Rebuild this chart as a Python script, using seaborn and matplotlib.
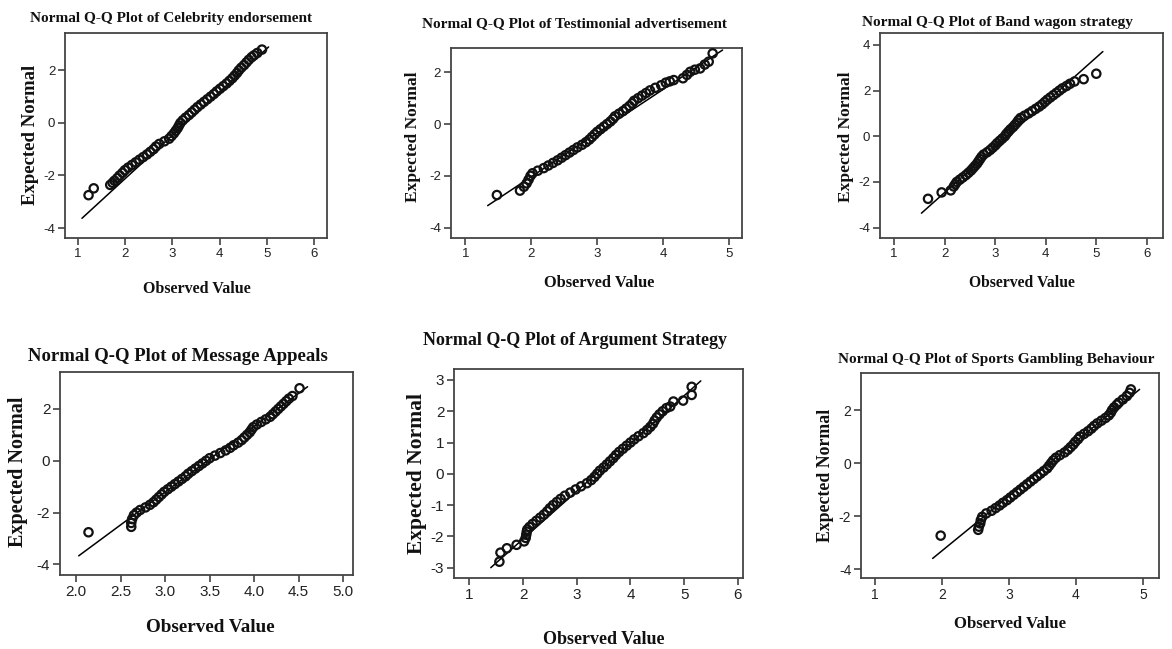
import matplotlib.pyplot as plt
import seaborn as sns
from matplotlib.ticker import FormatStrFormatter

sns.set_theme(style="ticks")
plt.rcParams["font.family"] = ["Liberation Sans", "DejaVu Sans"]
plt.rcParams["axes.unicode_minus"] = False

W, H = 1172, 649
SERIF = ["Liberation Serif", "DejaVu Serif"]

celebrity_obs = [1.22, 1.33, 1.68, 1.73, 1.77, 1.83, 1.88, 1.94, 1.99, 2.06, 2.14, 2.22, 2.3, 2.38,
                 2.46, 2.53, 2.6, 2.65, 2.72, 2.83, 2.93, 2.98, 3.03, 3.07, 3.11, 3.14, 3.17, 3.22,
                 3.28, 3.35, 3.41, 3.47, 3.53, 3.6, 3.67, 3.74, 3.81, 3.88, 3.94, 4.01, 4.08, 4.15,
                 4.21, 4.27, 4.32, 4.37, 4.41, 4.46, 4.52, 4.57, 4.62, 4.68, 4.73, 4.8, 4.9]
celebrity_exp = [-2.75, -2.49, -2.36, -2.28, -2.2, -2.1, -2.0, -1.9, -1.8, -1.7, -1.6, -1.5, -1.4,
                 -1.3, -1.2, -1.1, -1.0, -0.9, -0.8, -0.7, -0.6, -0.5, -0.4, -0.3, -0.2, -0.1, 0.0,
                 0.1, 0.2, 0.3, 0.4, 0.5, 0.6, 0.7, 0.8, 0.9, 1.0, 1.1, 1.2, 1.3, 1.4, 1.5, 1.6, 1.7,
                 1.8, 1.9, 2.0, 2.1, 2.2, 2.3, 2.4, 2.5, 2.57, 2.66, 2.79]

testimonial_obs = [1.48, 1.83, 1.89, 1.93, 1.96, 1.99, 2.02, 2.1, 2.19, 2.26, 2.33, 2.4, 2.46, 2.52,
                   2.58, 2.64, 2.7, 2.77, 2.83, 2.88, 2.92, 2.96, 3.0, 3.05, 3.1, 3.15, 3.2, 3.24,
                   3.27, 3.33, 3.39, 3.44, 3.49, 3.53, 3.56, 3.62, 3.68, 3.74, 3.8, 3.88, 3.97, 4.04,
                   4.1, 4.16, 4.3, 4.36, 4.41, 4.48, 4.56, 4.63, 4.69, 4.75]
testimonial_exp = [-2.74, -2.57, -2.42, -2.29, -2.15, -2.0, -1.9, -1.8, -1.7, -1.6, -1.5, -1.4, -1.3,
                   -1.2, -1.1, -1.0, -0.9, -0.8, -0.7, -0.6, -0.5, -0.4, -0.3, -0.2, -0.1, 0.0, 0.1,
                   0.2, 0.3, 0.4, 0.5, 0.6, 0.7, 0.8, 0.9, 1.0, 1.1, 1.2, 1.3, 1.4, 1.5, 1.6, 1.65,
                   1.7, 1.77, 1.9, 2.02, 2.1, 2.15, 2.3, 2.41, 2.73]

bandwagon_obs = [1.67, 1.94, 2.12, 2.18, 2.21, 2.24, 2.3, 2.36, 2.42, 2.47, 2.52, 2.56, 2.6, 2.64,
                 2.67, 2.7, 2.73, 2.77, 2.84, 2.9, 2.95, 3.0, 3.04, 3.09, 3.14, 3.19, 3.22, 3.26,
                 3.3, 3.35, 3.39, 3.43, 3.46, 3.5, 3.58, 3.66, 3.73, 3.8, 3.87, 3.93, 3.98, 4.03,
                 4.09, 4.15, 4.21, 4.27, 4.33, 4.41, 4.48, 4.57, 4.75, 5.0]
bandwagon_exp = [-2.74, -2.46, -2.37, -2.2, -2.1, -2.0, -1.9, -1.8, -1.7, -1.6, -1.5, -1.4, -1.3,
                 -1.2, -1.1, -1.0, -0.9, -0.8, -0.7, -0.6, -0.5, -0.4, -0.3, -0.2, -0.1, 0.0, 0.1,
                 0.2, 0.3, 0.4, 0.5, 0.6, 0.7, 0.8, 0.9, 1.0, 1.1, 1.2, 1.3, 1.4, 1.5, 1.6, 1.7,
                 1.8, 1.9, 2.0, 2.1, 2.2, 2.3, 2.4, 2.5, 2.74]

message_obs = [2.14, 2.62, 2.62, 2.63, 2.65, 2.68, 2.72, 2.78, 2.83, 2.87, 2.9, 2.93, 2.96, 2.99,
               3.03, 3.07, 3.11, 3.15, 3.19, 3.23, 3.26, 3.3, 3.34, 3.38, 3.42, 3.46, 3.5, 3.56,
               3.62, 3.68, 3.73, 3.77, 3.82, 3.86, 3.89, 3.92, 3.95, 3.97, 3.99, 4.03, 4.08, 4.13,
               4.18, 4.21, 4.24, 4.27, 4.3, 4.33, 4.36, 4.39, 4.43, 4.51]
message_exp = [-2.76, -2.55, -2.4, -2.25, -2.1, -2.0, -1.9, -1.8, -1.7, -1.6, -1.5, -1.4, -1.3,
               -1.2, -1.1, -1.0, -0.9, -0.8, -0.7, -0.6, -0.5, -0.4, -0.3, -0.2, -0.1, 0.0, 0.1,
               0.2, 0.3, 0.4, 0.5, 0.6, 0.7, 0.8, 0.9, 1.0, 1.1, 1.2, 1.3, 1.4, 1.5, 1.6, 1.7,
               1.8, 1.9, 2.0, 2.1, 2.2, 2.3, 2.4, 2.5, 2.8]

argument_obs = [1.56, 1.58, 1.7, 1.88, 2.02, 2.05, 2.06, 2.07, 2.08, 2.12, 2.18, 2.25, 2.32, 2.39,
                2.45, 2.5, 2.56, 2.63, 2.7, 2.78, 2.88, 2.98, 3.08, 3.19, 3.27, 3.33, 3.38, 3.43,
                3.5, 3.56, 3.62, 3.68, 3.73, 3.79, 3.86, 3.93, 4.0, 4.07, 4.15, 4.24, 4.31, 4.37,
                4.42, 4.45, 4.49, 4.54, 4.6, 4.67, 4.74, 4.8, 4.98, 5.14, 5.14]
argument_exp = [-2.81, -2.52, -2.38, -2.27, -2.16, -2.05, -1.95, -1.85, -1.78, -1.7, -1.6, -1.5,
                -1.4, -1.3, -1.2, -1.1, -1.0, -0.9, -0.8, -0.7, -0.6, -0.5, -0.4, -0.3, -0.2, -0.1,
                0.0, 0.1, 0.2, 0.3, 0.4, 0.5, 0.6, 0.7, 0.8, 0.9, 1.0, 1.1, 1.2, 1.3, 1.4, 1.5, 1.6,
                1.7, 1.8, 1.9, 2.0, 2.1, 2.15, 2.31, 2.34, 2.52, 2.78]

gambling_obs = [1.98, 2.54, 2.55, 2.57, 2.58, 2.6, 2.66, 2.74, 2.8, 2.86, 2.91, 2.97, 3.02, 3.07,
                3.12, 3.17, 3.22, 3.27, 3.32, 3.37, 3.42, 3.47, 3.52, 3.57, 3.6, 3.63, 3.66, 3.7,
                3.76, 3.83, 3.88, 3.92, 3.96, 3.99, 4.03, 4.06, 4.12, 4.18, 4.23, 4.27, 4.32, 4.38,
                4.44, 4.49, 4.52, 4.54, 4.57, 4.61, 4.64, 4.7, 4.76, 4.8, 4.82]
gambling_exp = [-2.74, -2.52, -2.4, -2.28, -2.15, -2.03, -1.9, -1.8, -1.7, -1.6, -1.5, -1.4, -1.3,
                -1.2, -1.1, -1.0, -0.9, -0.8, -0.7, -0.6, -0.5, -0.4, -0.3, -0.2, -0.1, 0.0, 0.1,
                0.2, 0.3, 0.4, 0.5, 0.6, 0.7, 0.8, 0.9, 1.0, 1.1, 1.2, 1.3, 1.4, 1.5, 1.6, 1.7,
                1.8, 1.9, 2.0, 2.1, 2.2, 2.28, 2.4, 2.53, 2.65, 2.78]

# reference lines (two end points each)
line_x = [[1.08, 5.04], [1.34, 4.9], [1.54, 5.13], [2.03, 4.6], [1.40, 5.31], [1.86, 4.95]]
line_y = [[-3.63, 2.89], [-3.15, 2.86], [-3.37, 3.71], [-3.67, 2.86], [-3.0, 2.97], [-3.6, 2.78]]

titles = [
    "Normal Q-Q Plot of Celebrity endorsement",
    "Normal Q-Q Plot of Testimonial advertisement",
    "Normal Q-Q Plot of Band wagon strategy",
    "Normal Q-Q Plot of Message Appeals",
    "Normal Q-Q Plot of Argument Strategy",
    "Normal Q-Q Plot of Sports Gambling Behaviour",
]
series = [
    (celebrity_obs, celebrity_exp),
    (testimonial_obs, testimonial_exp),
    (bandwagon_obs, bandwagon_exp),
    (message_obs, message_exp),
    (argument_obs, argument_exp),
    (gambling_obs, gambling_exp),
]
xticks = [[1, 2, 3, 4, 5, 6], [1, 2, 3, 4, 5], [1, 2, 3, 4, 5, 6],
          [2.0, 2.5, 3.0, 3.5, 4.0, 4.5, 5.0], [1, 2, 3, 4, 5, 6], [1, 2, 3, 4, 5]]
yticks = [[-4, -2, 0, 2], [-4, -2, 0, 2], [-4, -2, 0, 2, 4],
          [-4, -2, 0, 2], [-3, -2, -1, 0, 1, 2, 3], [-4, -2, 0, 2]]

# layout in pixels: box (left, top, right, bottom), limits, text placement and sizes
layout = [
    dict(box=(65, 32.5, 327, 238), xlim=(0.72, 6.28), ylim=(-4.38, 3.44), tick=9.5,
         title=(171, 21.7, 11), xlab=(196.7, 292.7, 11.5), ylab=(30.7, 135, 13.5)),
    dict(box=(450.7, 47.7, 741.7, 238), xlim=(0.78, 5.19), ylim=(-4.4, 2.95), tick=9.5,
         title=(575, 27.3, 11), xlab=(599, 286.7, 11.8), ylab=(413, 136.7, 12.5)),
    dict(box=(880, 33.3, 1163, 238.3), xlim=(0.72, 6.32), ylim=(-4.47, 4.51), tick=9.5,
         title=(997, 26, 11), xlab=(1022, 286.7, 11.3), ylab=(846, 136.7, 12.5)),
    dict(box=(60, 371.7, 353, 575), xlim=(1.82, 5.11), ylim=(-4.41, 3.44), tick=11,
         title=(177.5, 360.7, 13.5), xlab=(210, 631.7, 13.8), ylab=(18, 472, 14.5)),
    dict(box=(454, 369.3, 742.7, 578.3), xlim=(0.715, 6.09), ylim=(-3.34, 3.34), tick=11,
         title=(575, 345, 13), xlab=(604, 644, 13), ylab=(416.7, 474, 15.5)),
    dict(box=(861, 372.7, 1159, 578.3), xlim=(0.79, 5.24), ylim=(-4.35, 3.41), tick=10,
         title=(996, 363.3, 11), xlab=(1010, 628.3, 12), ylab=(825, 475, 12.8)),
]

fig = plt.figure(figsize=(W / 100, H / 100), dpi=100)
fig.patch.set_facecolor("white")


def fx(x):
    return x / W


def fy(y):
    return 1 - y / H


for i, lay in enumerate(layout):
    l, t, r, b = lay["box"]
    ax = fig.add_axes([fx(l), fy(b), (r - l) / W, (b - t) / H])
    obs, exp = series[i]
    sns.lineplot(x=line_x[i], y=line_y[i], ax=ax, color="black", linewidth=1.1,
                 estimator=None, sort=False)
    sns.scatterplot(x=obs, y=exp, ax=ax, marker="o", s=36, facecolor="none",
                    edgecolor="#111111", linewidth=1.6, zorder=3)
    ax.set_xlim(*lay["xlim"])
    ax.set_ylim(*lay["ylim"])
    ax.set_xticks(xticks[i])
    ax.set_yticks(yticks[i])
    if i == 3:
        ax.xaxis.set_major_formatter(FormatStrFormatter("%.1f"))
    else:
        ax.xaxis.set_major_formatter(FormatStrFormatter("%d"))
    ax.tick_params(direction="out", length=5, width=1.1, color="#333333",
                   labelsize=lay["tick"], labelcolor="#222222", pad=2)
    for side in ax.spines.values():
        side.set_color("#444444")
        side.set_linewidth(1.3)
    ax.set_facecolor("white")

    tx, ty, ts = lay["title"]
    fig.text(fx(tx), fy(ty), titles[i], ha="center", va="baseline", fontsize=ts,
             fontweight="bold", family=SERIF, color="#111111")
    xx, xy, xs = lay["xlab"]
    fig.text(fx(xx), fy(xy), "Observed Value", ha="center", va="baseline", fontsize=xs,
             fontweight="bold", family=SERIF, color="#111111")
    yx, yy, ys = lay["ylab"]
    fig.text(fx(yx), fy(yy), "Expected Normal", ha="center", va="center", rotation=90,
             fontsize=ys, fontweight="bold", family=SERIF, color="#111111")

fig.savefig("out.png", dpi=100, facecolor="white")
